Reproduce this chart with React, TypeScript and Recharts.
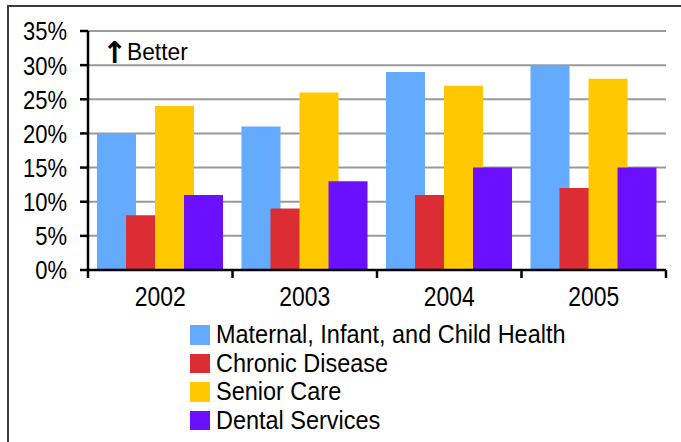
import React from 'react';
import { BarChart, Bar, XAxis, YAxis, CartesianGrid, Legend } from 'recharts';

const years = ['2002', '2003', '2004', '2005'];
const maternal = [20, 21, 29, 30];
const chronic = [8, 9, 11, 12];
const senior = [24, 26, 27, 28];
const dental = [11, 13, 15, 15];
const yTicks = [0, 5, 10, 15, 20, 25, 30, 35];
const seriesNames = [
  'Maternal, Infant, and Child Health',
  'Chronic Disease',
  'Senior Care',
  'Dental Services',
];
const seriesKeys = ['maternal', 'chronic', 'senior', 'dental'];
const seriesColors = ['#64AAFF', '#DC2D35', '#FFC800', '#6A10FF'];

const data = years.map((year, i) => ({
  year,
  maternal: maternal[i],
  chronic: chronic[i],
  senior: senior[i],
  dental: dental[i],
}));

const FONT = "'Liberation Sans', Arial, sans-serif";
const W = 681;
const H = 442;
const MARGIN = { top: 31, right: 15, left: 0, bottom: 0 };
const Y_AXIS_W = 88;
const X_AXIS_H = 172;
const TICK_SIZE = 8;
const TICK_MARGIN = 9;
const BAND = (W - MARGIN.left - MARGIN.right - Y_AXIS_W) / years.length;
const NARROW = 0.85;

const XTick = (props: any) => {
  const { x, y, payload, index, visibleTicksCount } = props;
  const half = BAND / 2;
  const axisY = y - TICK_SIZE - TICK_MARGIN;
  return (
    <g>
      <line x1={x - half} x2={x - half} y1={axisY} y2={axisY + TICK_SIZE} stroke="#000" strokeWidth={2.5} />
      {index === visibleTicksCount - 1 && (
        <line x1={x + half} x2={x + half} y1={axisY} y2={axisY + TICK_SIZE} stroke="#000" strokeWidth={2.5} />
      )}
      <g transform={`translate(${x},${y}) scale(${NARROW},1)`}>
        <text x={0} y={0} dy="0.71em" textAnchor="middle" fontFamily={FONT} fontSize={27} fill="#000">
          {payload.value}
        </text>
      </g>
    </g>
  );
};

const YTick = (props: any) => {
  const { x, y, payload } = props;
  return (
    <g transform={`translate(${x},${y}) scale(0.83,1)`}>
      <text x={0} y={0} dy="0.355em" textAnchor="end" fontFamily={FONT} fontSize={26.5} fill="#000">
        {`${payload.value}%`}
      </text>
    </g>
  );
};

const renderLegend = (props: any) => {
  const payload = [...(props.payload || [])].sort(
    (a: any, b: any) => seriesNames.indexOf(a.value) - seriesNames.indexOf(b.value)
  );
  return (
    <div style={{ fontFamily: FONT, fontSize: 25.5, color: '#000' }}>
      {payload.map((e: any) => (
        <div key={e.value} style={{ display: 'flex', alignItems: 'center', height: 28.5, whiteSpace: 'nowrap' }}>
          <span
            style={{ width: 19.5, height: 19.5, background: e.color, marginRight: 6.5, display: 'inline-block', flex: 'none' }}
          />
          <span style={{ lineHeight: 1, display: 'inline-block', transform: 'scaleX(0.92)', transformOrigin: 'left center' }}>
            {e.value}
          </span>
        </div>
      ))}
    </div>
  );
};

export default function App() {
  return (
    <div style={{ position: 'absolute', left: 0, top: 0, width: W, height: H, background: '#fff', overflow: 'hidden' }}>
      <div
        style={{
          position: 'absolute',
          left: 7,
          top: 5,
          width: W,
          height: H,
          borderTop: '2px solid #3c3c3c',
          borderLeft: '2px solid #3c3c3c',
        }}
      />
      <BarChart width={W} height={H} data={data} margin={MARGIN} barSize={39} barGap={-10}>
        <CartesianGrid horizontal vertical={false} stroke="#9a9a9a" strokeWidth={2} />
        <XAxis
          dataKey="year"
          height={X_AXIS_H}
          axisLine={{ stroke: '#000', strokeWidth: 2.5 }}
          tickLine={false}
          tickSize={TICK_SIZE}
          tickMargin={TICK_MARGIN}
          tick={<XTick />}
          interval={0}
        />
        <YAxis
          width={Y_AXIS_W}
          domain={[0, 35]}
          ticks={yTicks}
          interval={0}
          axisLine={{ stroke: '#000', strokeWidth: 2.5 }}
          tickLine={{ stroke: '#000', strokeWidth: 2.5 }}
          tickSize={TICK_SIZE}
          tickMargin={13}
          tick={<YTick />}
        />
        {seriesKeys.map((k, i) => (
          <Bar key={k} dataKey={k} name={seriesNames[i]} fill={seriesColors[i]} isAnimationActive={false} />
        ))}
        <Legend
          layout="horizontal"
          verticalAlign="middle"
          align="center"
          content={renderLegend}
          wrapperStyle={{ left: 190, top: 320.5, width: 440 }}
        />
      </BarChart>
      <div
        style={{
          position: 'absolute',
          left: 102,
          top: 40,
          height: 25,
          display: 'flex',
          alignItems: 'center',
          color: '#000',
          whiteSpace: 'nowrap',
        }}
      >
        <span
          style={{
            display: 'inline-block',
            width: 24.5,
            fontFamily: "'DejaVu Sans', sans-serif",
            fontWeight: 'bold',
            fontSize: 30,
            lineHeight: 1,
            marginTop: 0,
          }}
        >
          ↑
        </span>
        <span
          style={{
            display: 'inline-block',
            fontFamily: FONT,
            fontSize: 24.5,
            lineHeight: 1,
            transform: 'scaleX(0.93)',
            transformOrigin: 'left center',
          }}
        >
          Better
        </span>
      </div>
    </div>
  );
}
